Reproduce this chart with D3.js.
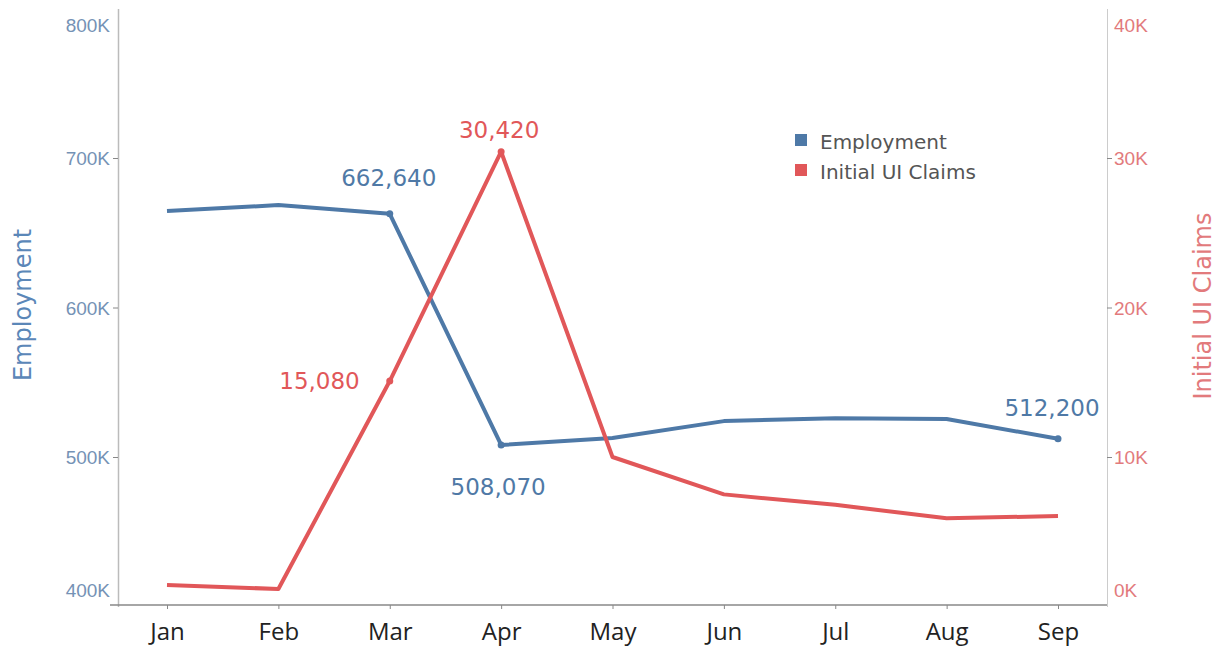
<!DOCTYPE html>
<html>
<head>
<meta charset="utf-8">
<script src="https://cdn.jsdelivr.net/npm/d3@7"></script>
<style>
  body { margin: 0; background: #fff; }
  svg { font-family: "DejaVu Sans", sans-serif; }
</style>
</head>
<body>
<div id="chart"></div>
<script>
const months = ["Jan", "Feb", "Mar", "Apr", "May", "Jun", "Jul", "Aug", "Sep"];
const employment = [664500, 668500, 662640, 508070, 512700, 524000, 526000, 525400, 512200];
const claims = [1440, 1170, 15080, 30420, 10000, 7500, 6800, 5900, 6050];
const empTicks = [400000, 500000, 600000, 700000, 800000];
const claimTicks = [0, 10000, 20000, 30000, 40000];

const w = 1221,
  h = 648;

const blue = "#4e79a7",
  red = "#e15759";

const svg = d3.select("#chart").append("svg").attr("width", w).attr("height", h);

const plotLeft = 118,
  plotRight = 1107,
  plotTop = 8.5,
  plotBottom = 606.5;

const x = d3.scalePoint().domain(months).range([167, 1058]);
const yEmp = d3.scaleLinear().domain([400000, 800000]).range([plotBottom, plotTop]);
const yClaims = d3.scaleLinear().domain([0, 40000]).range([plotBottom, plotTop]);

const fmtK = (d) => d / 1000 + "K";

// left axis
const gl = svg
  .append("g")
  .attr("transform", `translate(${plotLeft},0)`)
  .call(d3.axisLeft(yEmp).tickValues(empTicks).tickFormat(fmtK).tickSize(5).tickSizeOuter(0));
gl.select(".domain").attr("stroke", "#bbb").attr("stroke-width", 1.5);
gl.selectAll(".tick line").attr("stroke", "#888");
gl.selectAll(".tick text")
  .attr("fill", "#7592b5")
  .style("font-size", "19px")
  .attr("x", -8)
  .attr("dy", (d) => (d === 800000 ? 23 : d === 400000 ? -10 : 6.5));
gl.selectAll(".tick").filter((d) => d === 800000 || d === 400000).select("line").remove();

// right axis
const gr = svg
  .append("g")
  .attr("transform", `translate(${plotRight},0)`)
  .call(d3.axisRight(yClaims).tickValues(claimTicks).tickFormat(fmtK).tickSize(5).tickSizeOuter(0));
gr.select(".domain").attr("stroke", "#ccc");
gr.selectAll(".tick line").attr("stroke", "#888");
gr.selectAll(".tick text")
  .attr("fill", "#e27a7c")
  .style("font-size", "19px")
  .attr("x", 7)
  .attr("dy", (d) => (d === 40000 ? 23 : d === 0 ? -10 : 6.5));
gr.selectAll(".tick").filter((d) => d === 40000 || d === 0).select("line").remove();

// x axis
const gx = svg
  .append("g")
  .attr("transform", `translate(0,605)`)
  .call(d3.axisBottom(x).tickSize(4).tickSizeOuter(0).tickPadding(0));
gx.select(".domain").attr("d", `M${plotLeft - 8},0H${plotRight}`).attr("stroke", "#888").attr("stroke-width", 1.5);
gx.selectAll(".tick line").attr("stroke", "#888");
gx.selectAll(".tick text")
  .attr("fill", "#222")
  .style("font-family", "'Open Sans', sans-serif")
  .style("font-size", "24px")
  .attr("y", 35)
  .attr("dy", 0);

// axis titles
svg
  .append("text")
  .attr("transform", `translate(31,305) rotate(-90)`)
  .attr("text-anchor", "middle")
  .attr("fill", "#5b87b8")
  .style("font-size", "24px")
  .text("Employment");

svg
  .append("text")
  .attr("transform", `translate(1211,306) rotate(-90)`)
  .attr("text-anchor", "middle")
  .attr("fill", "#e27a7c")
  .style("font-size", "24px")
  .text("Initial UI Claims");

// lines
const lineEmp = d3
  .line()
  .x((d, i) => x(months[i]))
  .y((d) => yEmp(d));
const lineClaims = d3
  .line()
  .x((d, i) => x(months[i]))
  .y((d) => yClaims(d));

svg
  .append("path")
  .datum(employment)
  .attr("d", lineEmp)
  .attr("fill", "none")
  .attr("stroke", blue)
  .attr("stroke-width", 4)
  .attr("stroke-linejoin", "round");

svg
  .append("path")
  .datum(claims)
  .attr("d", lineClaims)
  .attr("fill", "none")
  .attr("stroke", red)
  .attr("stroke-width", 4)
  .attr("stroke-linejoin", "round");

// marks on labelled points
const empLabels = [
  { i: 2, dx: -1, dy: -28, anchor: "middle" },
  { i: 3, dx: -3, dy: 50, anchor: "middle" },
  { i: 8, dx: -6, dy: -23, anchor: "middle" },
];
const claimLabels = [
  { i: 2, dx: -30, dy: 8, anchor: "end" },
  { i: 3, dx: -2, dy: -14, anchor: "middle" },
];

svg
  .selectAll(".dotEmp")
  .data(empLabels)
  .enter()
  .append("circle")
  .attr("cx", (d) => x(months[d.i]))
  .attr("cy", (d) => yEmp(employment[d.i]))
  .attr("r", 3.5)
  .attr("fill", blue);

svg
  .selectAll(".dotClaims")
  .data(claimLabels)
  .enter()
  .append("circle")
  .attr("cx", (d) => x(months[d.i]))
  .attr("cy", (d) => yClaims(claims[d.i]))
  .attr("r", 3.5)
  .attr("fill", red);

svg
  .selectAll(".lblEmp")
  .data(empLabels)
  .enter()
  .append("text")
  .attr("x", (d) => x(months[d.i]) + d.dx)
  .attr("y", (d) => yEmp(employment[d.i]) + d.dy)
  .attr("text-anchor", (d) => d.anchor)
  .attr("fill", "#4f79a6")
  .style("font-size", "23px")
  .text((d) => d3.format(",")(employment[d.i]));

svg
  .selectAll(".lblClaims")
  .data(claimLabels)
  .enter()
  .append("text")
  .attr("x", (d) => x(months[d.i]) + d.dx)
  .attr("y", (d) => yClaims(claims[d.i]) + d.dy)
  .attr("text-anchor", (d) => d.anchor)
  .attr("fill", "#e15759")
  .style("font-size", "23px")
  .text((d) => d3.format(",")(claims[d.i]));

// legend
const legend = svg
  .selectAll(".legend")
  .data([
    { name: "Employment", color: blue },
    { name: "Initial UI Claims", color: red },
  ])
  .enter()
  .append("g")
  .attr("transform", (d, i) => `translate(795,${134 + i * 30})`);
legend.append("rect").attr("width", 12).attr("height", 12).attr("fill", (d) => d.color);
legend
  .append("text")
  .attr("x", 25)
  .attr("y", 15)
  .attr("fill", "#555")
  .style("font-size", "20px")
  .text((d) => d.name);
</script>
</body>
</html>
